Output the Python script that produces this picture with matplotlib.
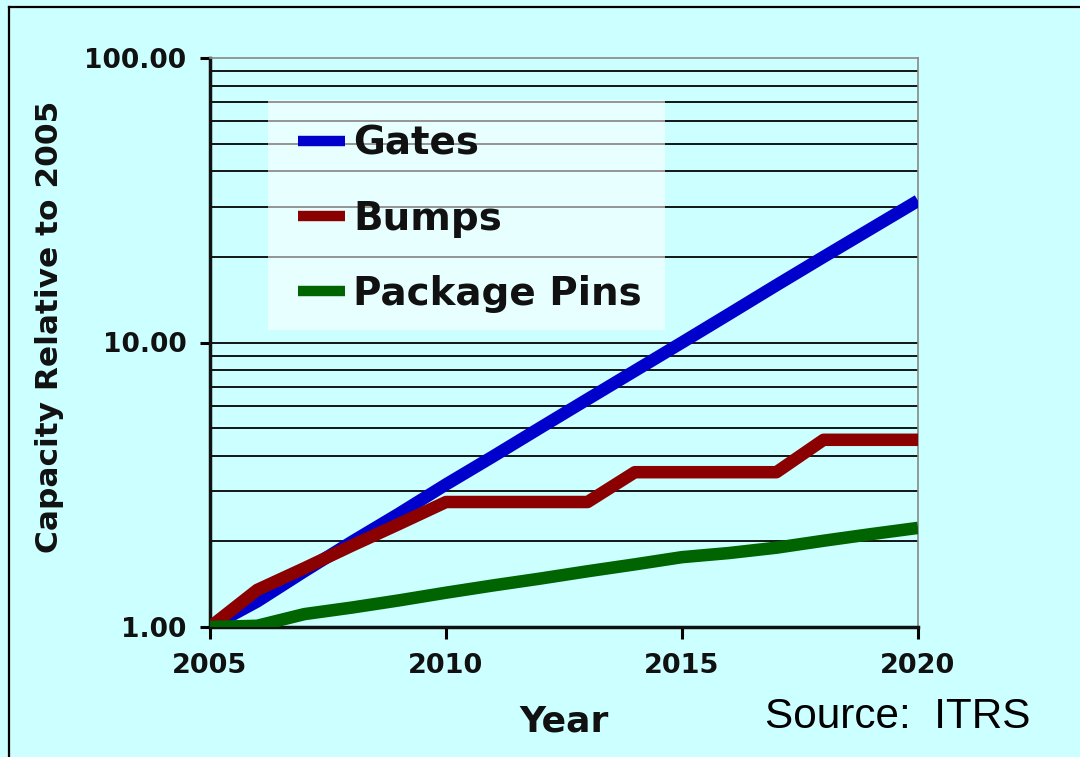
"""
Capacity growth relative to 2005 (ITRS): gates, bumps and package pins.
"""
import matplotlib
matplotlib.use('Agg')
import matplotlib.pyplot as plt
from matplotlib.lines import Line2D
from matplotlib.patches import Rectangle
from matplotlib.ticker import LogLocator, NullFormatter, FixedLocator

years = list(range(2005, 2021))
gates = [1.00, 1.23, 1.57, 1.99, 2.50, 3.17, 3.98, 5.02, 6.32, 7.95, 10.0,
         12.6, 15.9, 20.0, 25.1, 31.5]
bumps = [1.00, 1.35, 1.61, 1.93, 2.30, 2.75, 2.75, 2.75, 2.75, 3.50, 3.50,
         3.50, 3.50, 4.55, 4.55, 4.55]
pins = [1.00, 1.01, 1.11, 1.17, 1.24, 1.32, 1.40, 1.48, 1.57, 1.66, 1.76,
        1.82, 1.90, 2.01, 2.12, 2.23]
series = [('Gates', gates, '#0000CC'),
          ('Bumps', bumps, '#8B0000'),
          ('Package Pins', pins, '#006400')]
xticks = [2005, 2010, 2015, 2020]
yticks = [1, 10, 100]

bg = '#CCFFFF'
fig = plt.figure(figsize=(10.8, 7.57), dpi=100, facecolor=bg)
ax = fig.add_axes([210 / 1080, 1 - 627 / 757, 708 / 1080, 569 / 757])
ax.set_facecolor(bg)

for name, vals, col in series:
    ax.plot(years, vals, color=col, linewidth=9, label=name,
            solid_capstyle='butt', zorder=3)

ax.set_yscale('log')
ax.set_ylim(1, 100)
ax.set_xlim(2005, 2020)
ax.xaxis.set_major_locator(FixedLocator(xticks))
ax.yaxis.set_major_locator(FixedLocator(yticks))
ax.yaxis.set_minor_locator(LogLocator(base=10, subs=range(2, 10)))
ax.yaxis.set_minor_formatter(NullFormatter())
ax.set_yticklabels(['%.2f' % v for v in yticks])

ax.tick_params(axis='y', which='major', length=7, width=2.2, pad=10,
               labelsize=19, direction='out')
ax.tick_params(axis='y', which='minor', length=0)
ax.tick_params(axis='x', length=8.5, width=2.2, pad=10, labelsize=19.5,
               direction='out')
for lbl in ax.get_xticklabels() + ax.get_yticklabels():
    lbl.set_fontweight('bold')
    lbl.set_color('#111111')

ax.grid(True, axis='y', which='both', color='#151515', linewidth=1.4, zorder=1)
ax.grid(False, axis='x')
ax.yaxis.get_major_ticks()[-1].gridline.set_visible(False)
ax.set_axisbelow(True)

ax.spines['left'].set_linewidth(2.5)
ax.spines['bottom'].set_linewidth(2.5)
ax.spines['left'].set_color('#111111')
ax.spines['bottom'].set_color('#111111')
ax.spines['top'].set_color('#888888')
ax.spines['top'].set_linewidth(1.2)
ax.spines['top'].set_linestyle((0, (2, 1)))
ax.spines['right'].set_color('#888888')
ax.spines['right'].set_linewidth(1.2)

# pale box behind the legend
ax.add_patch(Rectangle((0.082, 0.522), 0.561, 0.404, transform=ax.transAxes,
                       facecolor='white', alpha=0.55, edgecolor='none', zorder=1.5))

leg = ax.legend(loc='upper left', bbox_to_anchor=(0.103, 0.91), frameon=False,
                prop={'weight': 'bold', 'size': 28}, handlelength=1.2,
                handletextpad=0.2, labelspacing=0.95, borderaxespad=0)
for h in leg.legend_handles:
    h.set_linewidth(7.5)
for t in leg.get_texts():
    t.set_color('#111111')

fig.text(50 / 1080, 1 - 327 / 757, 'Capacity Relative to 2005', rotation=90,
         ha='center', va='center', fontsize=22.5, fontweight='bold', color='#111111')
fig.text(564 / 1080, 1 - 721 / 757, 'Year', ha='center', va='center',
         fontsize=26, fontweight='bold', color='#111111')
fig.text(765 / 1080, 1 - 728 / 757, 'Source:  ITRS', ha='left', va='baseline',
         fontsize=30.4, family='Liberation Sans', color='black')

# outer frame (left and top edges)
fig.add_artist(Line2D([9 / 1080, 9 / 1080], [0, 1 - 7 / 757],
                      transform=fig.transFigure, color='black', linewidth=1.6))
fig.add_artist(Line2D([9 / 1080, 1], [1 - 7 / 757, 1 - 7 / 757],
                      transform=fig.transFigure, color='black', linewidth=1.6))

fig.savefig('out.png', dpi=100, facecolor=bg)
